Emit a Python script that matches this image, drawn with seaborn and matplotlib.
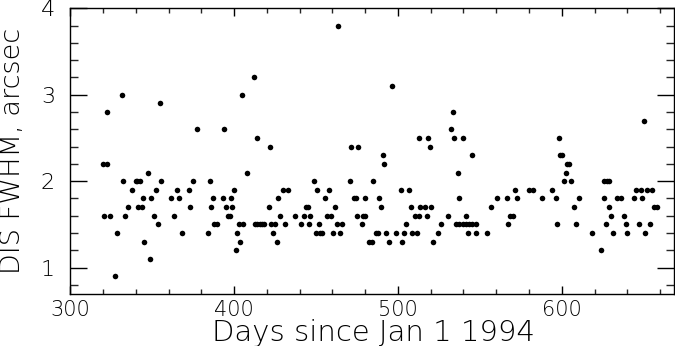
import matplotlib
matplotlib.use("Agg")
import matplotlib.pyplot as plt
import seaborn as sns
import pandas as pd
from matplotlib.ticker import MultipleLocator

days = [319.8, 322.7, 322.2, 320.4, 324.4, 327.4, 328.3, 331.3, 332.3, 333.4,
        335.4, 337.4, 339.9, 341.0, 342.3, 341.3, 343.7, 344.3, 345.1, 347.2,
        348.4, 349.2, 351.2, 352.3, 353.3, 354.5, 355.3, 361.4, 363.0, 365.0,
        366.2, 368.1, 372.2, 373.2, 375.0, 377.3, 384.1, 385.0, 385.8, 387.0,
        387.8, 389.5, 393.1, 393.9, 395.1, 396.0, 397.2, 398.0, 398.8, 400.0,
        401.0, 402.0, 402.9, 403.7, 405.1, 405.7, 407.9, 412.0, 412.6, 414.0,
        415.5, 417.0, 418.3, 414.0, 421.0, 422.0, 422.4, 425.0, 423.6, 425.9,
        426.8, 427.9, 429.7, 432.6, 430.9, 437.0, 440.7, 442.7, 446.3, 444.1,
        444.9, 446.0, 449.0, 449.8, 452.5, 453.8, 450.8, 452.1, 455.7, 456.7,
        459.0, 457.7, 460.6, 464.6, 461.8, 462.6, 465.7, 463.4, 470.7, 471.6,
        475.9, 473.2, 474.4, 474.8, 478.6, 479.8, 477.9, 479.7, 482.3, 484.4,
        484.8, 486.8, 488.0, 488.7, 489.7, 490.7, 491.7, 492.7, 494.8, 496.6,
        498.6, 501.6, 506.7, 502.4, 503.6, 504.7, 507.7, 508.8, 511.8, 510.4,
        513.1, 517.5, 512.6, 513.4, 516.3, 520.4, 518.5, 519.5, 521.6, 524.4,
        526.4, 530.3, 532.1, 533.4, 534.4, 535.2, 537.2, 536.4, 537.2, 539.5,
        539.5, 541.5, 543.5, 545.5, 547.7, 541.7, 542.7, 547.7, 545.4, 554.5,
        556.5, 560.6, 566.3, 567.3, 568.3, 570.4, 571.3, 572.4, 580.1, 582.6,
        588.2, 594.1, 596.2, 597.2, 598.2, 599.2, 600.4, 601.4, 602.4, 603.0,
        604.4, 605.5, 607.5, 608.4, 610.4, 618.5, 624.2, 625.5, 626.0, 627.4,
        628.7, 627.2, 629.1, 630.1, 631.1, 633.8, 636.2, 637.8, 639.0, 640.1,
        643.9, 645.0, 648.1, 647.1, 648.8, 650.1, 651.0, 652.1, 655.1, 653.7,
        656.2, 658.2]

fwhm = [2.2, 2.2, 2.8, 1.6, 1.6, 0.9, 1.4, 3.0, 2.0, 1.6,
        1.7, 1.9, 2.0, 2.0, 2.0, 1.7, 1.7, 1.8, 1.3, 2.1,
        1.1, 1.8, 1.6, 1.9, 1.5, 2.9, 2.0, 1.8, 1.6, 1.9,
        1.8, 1.4, 1.9, 1.7, 2.0, 2.6, 1.4, 2.0, 1.7, 1.8,
        1.5, 1.5, 1.8, 2.6, 1.7, 1.6, 1.6, 1.8, 1.7, 1.9,
        1.2, 1.4, 1.5, 1.3, 3.0, 1.5, 2.1, 3.2, 1.5, 1.5,
        1.5, 1.5, 1.5, 2.5, 1.7, 2.4, 1.5, 1.5, 1.4, 1.3,
        1.8, 1.6, 1.9, 1.9, 1.5, 1.6, 1.5, 1.6, 1.6, 1.7,
        1.7, 1.5, 2.0, 1.4, 1.4, 1.4, 1.9, 1.5, 1.8, 1.6,
        1.6, 1.9, 1.4, 1.4, 1.7, 1.5, 1.5, 3.8, 2.0, 2.4,
        2.4, 1.8, 1.8, 1.6, 1.6, 1.6, 1.5, 1.8, 1.3, 1.3,
        2.0, 1.4, 1.4, 1.8, 1.7, 2.3, 2.2, 1.4, 1.3, 3.1,
        1.4, 1.9, 1.9, 1.3, 1.4, 1.5, 1.7, 1.4, 1.4, 1.6,
        1.6, 1.6, 2.5, 1.7, 1.7, 1.7, 2.5, 2.4, 1.3, 1.4,
        1.5, 1.6, 2.6, 2.8, 2.5, 1.5, 1.5, 2.1, 1.8, 2.5,
        1.5, 1.5, 1.5, 1.5, 1.5, 1.6, 1.4, 1.4, 2.3, 1.4,
        1.7, 1.8, 1.8, 1.5, 1.6, 1.6, 1.9, 1.8, 1.9, 1.9,
        1.8, 1.9, 1.8, 1.5, 2.5, 2.3, 2.3, 2.0, 2.1, 2.2,
        2.2, 2.0, 1.7, 1.5, 1.8, 1.4, 1.2, 1.8, 2.0, 2.0,
        2.0, 1.5, 1.7, 1.6, 1.4, 1.8, 1.8, 1.6, 1.5, 1.4,
        1.8, 1.9, 1.9, 1.5, 1.8, 2.7, 1.4, 1.9, 1.9, 1.5,
        1.7, 1.7]

x_label = "Days since Jan 1 1994"
y_label = "DIS FWHM, arcsec"

df = pd.DataFrame({"day": days, "fwhm": fwhm})

sns.set_style("white")
plt.rcParams["font.family"] = ["DejaVu Sans"]

fig = plt.figure(figsize=(6.75, 3.46), dpi=100)
ax = fig.add_axes([70.3 / 675, 1 - 294 / 346, (674 - 70.3) / 675, (294 - 8.3) / 346])

sns.scatterplot(data=df, x="day", y="fwhm", ax=ax, color="black",
                s=16, linewidth=0, marker="o")

ax.set_xlim(300.0, 668.5)
ax.set_ylim(0.695, 4.0)
ax.set_xlabel("")
ax.set_ylabel("")

ax.xaxis.set_major_locator(MultipleLocator(100))
ax.xaxis.set_minor_locator(MultipleLocator(20))
ax.yaxis.set_major_locator(MultipleLocator(1))
ax.yaxis.set_minor_locator(MultipleLocator(0.2))

for side in ax.spines.values():
    side.set_color("black")
    side.set_linewidth(1.0)

ax.tick_params(axis="x", which="major", direction="in", length=6, width=1,
               top=True, bottom=True, labelsize=15, pad=4, colors="black")
ax.tick_params(axis="x", which="minor", direction="in", length=3.8, width=1,
               top=True, bottom=True)
ax.tick_params(axis="y", which="major", direction="in", length=12, width=1,
               left=True, right=True, labelsize=16, pad=11, colors="black")
ax.tick_params(axis="y", which="minor", direction="in", length=6, width=1,
               left=True, right=True)
for lbl in ax.get_xticklabels() + ax.get_yticklabels():
    lbl.set_fontweight("light")

fig.text(373 / 675, 1 - 341 / 346, x_label, ha="center", va="baseline",
         fontsize=21, color="black", fontweight="light")
fig.text(13 / 675, 1 - 151 / 346, y_label, ha="center", va="center",
         rotation=90, fontsize=19.5, color="black", fontweight="light")

fig.savefig("out.png", dpi=100, facecolor="white")
